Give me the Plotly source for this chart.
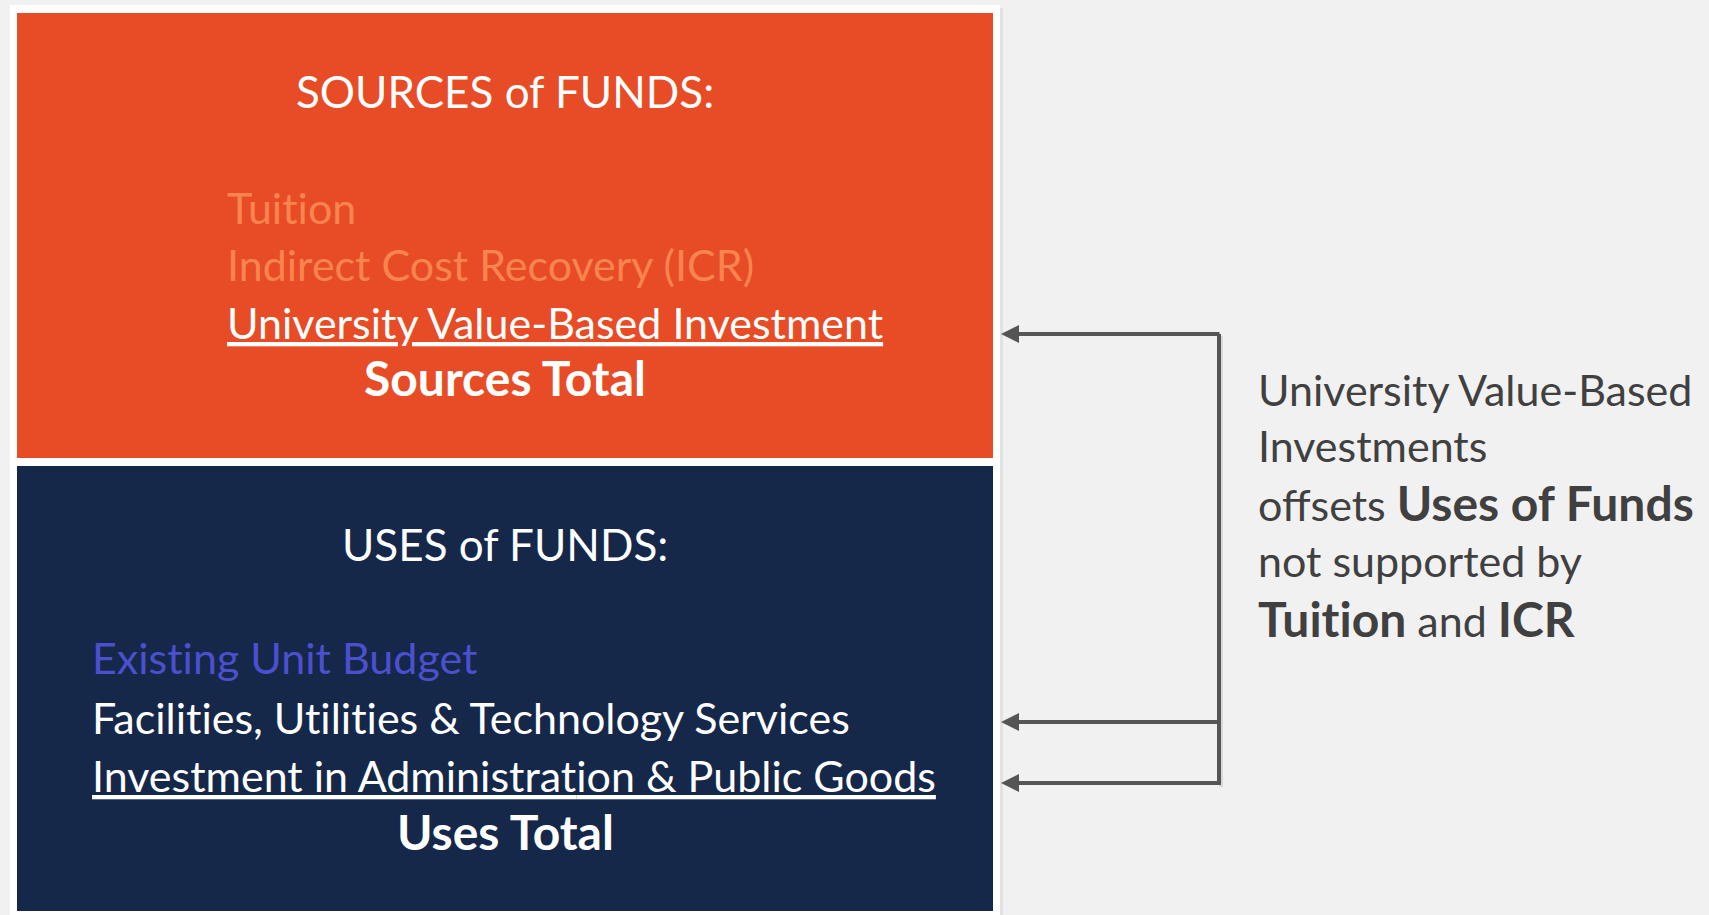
"""Sources / Uses of funds diagram"""

import plotly.graph_objects as go

# text content
sources_title = "SOURCES of FUNDS:"
source_items = ["Tuition", "Indirect Cost Recovery (ICR)", "University Value-Based Investment"]
source_colors = ["#F8844F", "#F8844F", "#FFFFFF"]
sources_total = "Sources Total"

uses_title = "USES of FUNDS:"
use_items = ["Existing Unit Budget", "Facilities, Utilities & Technology Services",
             "Investment in Administration & Public Goods"]
use_colors = ["#4B50CF", "#FFFFFF", "#FFFFFF"]
uses_total = "Uses Total"

note_lines = [("University Value-Based",), ("Investments",), ("offsets ", "Uses of Funds"),
              ("not supported by",), ("", "Tuition", " and ", "ICR")]

W, H = 1709, 915
FONT = "Lato"
FS = 43
FS_TITLE = 44
FS_TOTAL = 48
FS_NOTE_BOLD = 48
ORANGE = "#E84C26"
NAVY = "#15284A"
GREY = "#555555"


def yc(baseline, size=FS):
    # annotation middle from a text baseline
    return baseline - 0.43 * size


def noliga(s):
    # keep "ti" from turning into a ligature in Lato
    return s.replace("ti", "t\u200ci")


def note_markup(parts):
    # odd parts are bold
    out = ""
    for i, p in enumerate(parts):
        if i % 2:
            out += f'<span style="font-size:{FS_NOTE_BOLD}px"><b>{noliga(p)}</b></span>'
        else:
            out += noliga(p)
    return out


fig = go.Figure()

shapes = [
    # card shadow + white card
    dict(type="rect", x0=12, y0=8, x1=1003, y1=H + 10, fillcolor="rgba(0,0,0,0.06)", line_width=0, layer="below"),
    dict(type="rect", x0=10, y0=5, x1=1000, y1=H + 10, fillcolor="white", line_width=0, layer="below"),
    dict(type="rect", x0=17, y0=13, x1=993, y1=458, fillcolor=ORANGE, line_width=0, layer="below"),
    dict(type="rect", x0=17, y0=466, x1=993, y1=911, fillcolor=NAVY, line_width=0, layer="below"),
    # bracket vertical (soft shadow, then line)
    dict(type="line", x0=1221, y0=336, x1=1221, y1=787, line=dict(color="rgba(0,0,0,0.10)", width=4)),
    dict(type="line", x0=1219, y0=334, x1=1219, y1=785, line=dict(color=GREY, width=4)),
]

ann = []
# sources block
ann.append(dict(x=505, y=yc(110, FS_TITLE), text=sources_title, xanchor="center",
                font=dict(color="white", size=FS_TITLE)))
src_base = [226, 283, 341]
for txt, col, b in zip(source_items, source_colors, src_base):
    f = dict(color=col, size=FS)
    if txt == source_items[-1]:
        f["lineposition"] = "under"
    ann.append(dict(x=225, y=yc(b), text=noliga(txt), xanchor="left", font=f))
ann.append(dict(x=505, y=yc(398, FS_TOTAL), text="<b>" + sources_total + "</b>", xanchor="center",
                font=dict(color="white", size=FS_TOTAL)))

# uses block
ann.append(dict(x=505, y=yc(563, FS_TITLE), text=uses_title, xanchor="center",
                font=dict(color="white", size=FS_TITLE)))
use_base = [676, 736, 794]
for txt, col, b in zip(use_items, use_colors, use_base):
    f = dict(color=col, size=FS)
    if txt == use_items[-1]:
        f["lineposition"] = "under"
    ann.append(dict(x=90, y=yc(b), text=noliga(txt), xanchor="left", font=f))
ann.append(dict(x=505, y=yc(852, FS_TOTAL), text="<b>" + uses_total + "</b>", xanchor="center",
                font=dict(color="white", size=FS_TOTAL)))

# right-hand note
note_base = [408, 464, 521, 579, 637]
for parts, b in zip(note_lines, note_base):
    ann.append(dict(x=1256, y=yc(b), text=note_markup(parts), xanchor="left",
                    font=dict(color="#404040", size=FS)))

# arrows into the boxes
for ya in [334, 722, 783]:
    ann.append(dict(x=1001, y=ya, ax=1221, ay=ya, axref="x", ayref="y", text="",
                    showarrow=True, arrowhead=2, arrowsize=0.9, arrowwidth=4, arrowcolor=GREY))

for a in ann:
    a.setdefault("showarrow", False)
    a.setdefault("yanchor", "middle")
    a["xref"] = "x"
    a["yref"] = "y"

fig.update_layout(
    width=W, height=H,
    margin=dict(l=0, r=0, t=0, b=0),
    paper_bgcolor="#F1F1F1",
    plot_bgcolor="#F1F1F1",
    font=dict(family=FONT),
    shapes=shapes,
    annotations=ann,
    showlegend=False,
    xaxis=dict(range=[0, W], visible=False, fixedrange=True),
    yaxis=dict(range=[H, 0], visible=False, fixedrange=True),
)

fig.write_html("out.html", config={"displayModeBar": False},
               post_script="document.body.style.margin='0';")
